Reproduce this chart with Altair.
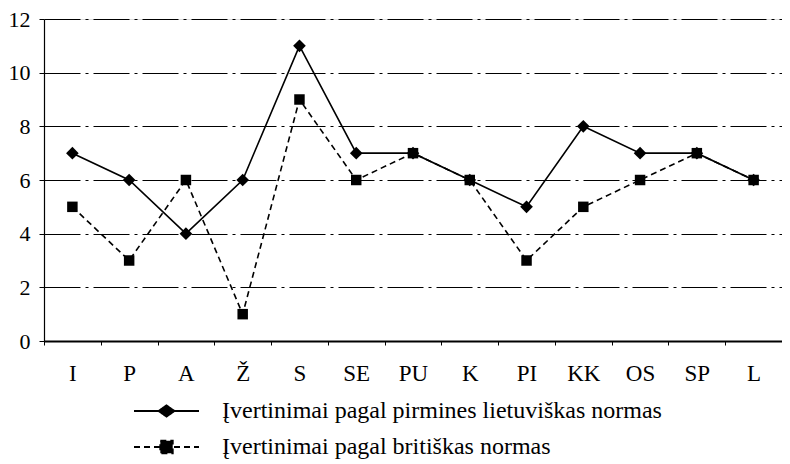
import altair as alt
import pandas as pd

categories = ["I", "P", "A", "Ž", "S", "SE", "PU", "K", "PI", "KK", "OS", "SP", "L"]
series_lt = [7, 6, 4, 6, 11, 7, 7, 6, 5, 8, 7, 7, 6]
series_gb = [5, 3, 6, 1, 9, 6, 7, 6, 3, 5, 6, 7, 6]
name_lt = "Įvertinimai pagal pirmines lietuviškas normas"
name_gb = "Įvertinimai pagal britiškas normas"
y_ticks = [0, 2, 4, 6, 8, 10, 12]

rows = []
for c, v in zip(categories, series_lt):
    rows.append({"cat": c, "val": v, "series": name_lt})
for c, v in zip(categories, series_gb):
    rows.append({"cat": c, "val": v, "series": name_gb})
df = pd.DataFrame(rows)

FONT = "Liberation Serif"
series_domain = [name_lt, name_gb]

x_enc = alt.X(
    "cat:N",
    sort=categories,
    scale=alt.Scale(type="band", paddingInner=0, paddingOuter=0),
    axis=alt.Axis(
        title=None, labelAngle=0, labelFont=FONT, labelFontSize=23, labelColor="black",
        tickBand="extent", tickSize=4, tickColor="black", labelPadding=17,
        domainColor="black", domainWidth=2, grid=False,
    ),
)
y_enc = alt.Y(
    "val:Q",
    scale=alt.Scale(domain=[0, 12], nice=False),
    axis=alt.Axis(
        title=None, values=y_ticks, labelFont=FONT, labelFontSize=22, labelColor="black",
        tickSize=5, tickColor="black", labelPadding=9, domainColor="black", domainWidth=1.2,
        grid=True, gridColor="black", gridWidth=1, gridDash=[36, 5, 3, 5],
    ),
)

base = alt.Chart(df)

line_lt = base.transform_filter(alt.datum.series == name_lt).mark_line(
    color="black", strokeWidth=1.6
).encode(x=x_enc, y=y_enc)
line_gb = base.transform_filter(alt.datum.series == name_gb).mark_line(
    color="black", strokeWidth=1.6, strokeDash=[6, 4]
).encode(x=x_enc, y=y_enc)
pt_lt = base.transform_filter(alt.datum.series == name_lt).mark_point(
    shape="diamond", filled=True, color="black", size=160, opacity=1
).encode(x=x_enc, y=y_enc)
pt_gb = base.transform_filter(alt.datum.series == name_gb).mark_point(
    shape="square", filled=True, color="black", size=110, opacity=1
).encode(x=x_enc, y=y_enc)

path_lt = "M-1,0H1M0,-0.17L0.24,0L0,0.17L-0.24,0Z"
path_gb = "M-1,0H1M-0.19,-0.19H0.19V0.19H-0.19Z"

leg_props = dict(
    title=None, orient="none", legendX=89, legendY=380, direction="vertical",
    labelFont=FONT, labelFontSize=24, labelColor="black", labelLimit=700,
    symbolSize=4225, symbolOpacity=1, symbolFillColor="black",
    symbolStrokeColor="black", symbolStrokeWidth=2, clipHeight=24,
    rowPadding=12, labelOffset=22, padding=0,
)

legend_layer = base.mark_point(strokeWidth=2, opacity=0).encode(
    x=x_enc,
    y=y_enc,
    shape=alt.Shape(
        "series:N",
        scale=alt.Scale(domain=series_domain, range=[path_lt, path_gb]),
        legend=alt.Legend(**leg_props),
    ),
    strokeDash=alt.StrokeDash(
        "series:N",
        scale=alt.Scale(domain=series_domain, range=[[1, 0], [6, 4]]),
        legend=alt.Legend(**leg_props),
    ),
    stroke=alt.Stroke(
        "series:N",
        scale=alt.Scale(domain=series_domain, range=["black", "black"]),
        legend=alt.Legend(**leg_props),
    ),
    fill=alt.Fill(
        "series:N",
        scale=alt.Scale(domain=series_domain, range=["black", "black"]),
        legend=alt.Legend(**leg_props),
    ),
)

chart = alt.layer(line_lt, line_gb, pt_lt, pt_gb, legend_layer).properties(
    width=738,
    height=322,
    autosize=alt.AutoSizeParams(type="none"),
    padding={"left": 36, "top": 11, "right": 0, "bottom": 122},
).configure_view(stroke=None).configure(background="white")

chart.save("out.html", embed_options={"renderer": "svg", "actions": False})
